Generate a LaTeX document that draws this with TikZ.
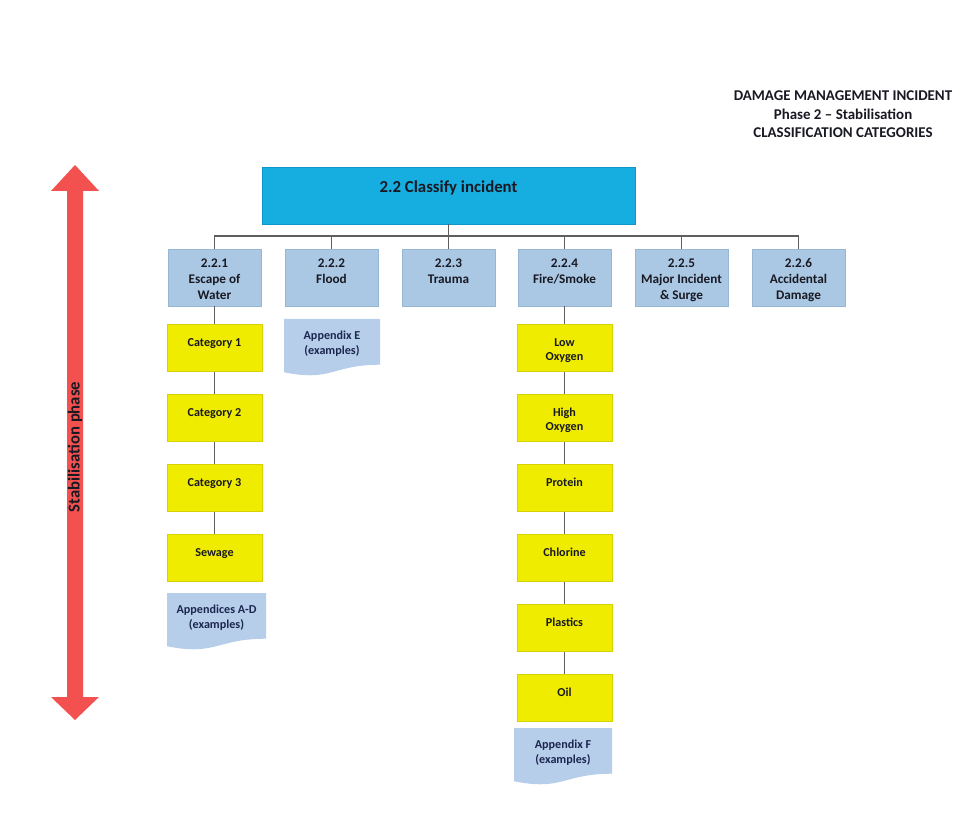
\documentclass[tikz,border=0pt]{standalone}
\usepackage{fontspec}
\setmainfont{Carlito}
\definecolor{cyanbox}{RGB}{22,174,224}
\definecolor{cyanedge}{RGB}{14,150,200}
\definecolor{paleblue}{RGB}{170,200,228}
\definecolor{paleedge}{RGB}{150,182,214}
\definecolor{docblue}{RGB}{182,206,234}
\definecolor{yellowbox}{RGB}{240,236,0}
\definecolor{yellowedge}{RGB}{214,210,0}
\definecolor{arrowred}{RGB}{243,80,80}
\definecolor{linegray}{RGB}{95,95,95}
\definecolor{inktext}{RGB}{25,25,35}
\definecolor{navytext}{RGB}{28,38,80}
% one drawing unit = one pixel (0.75pt), y grows downwards
\tikzset{
  boxbase/.style={rectangle, inner sep=0pt, line width=0.5pt},
  topbox/.style={boxbase, fill=cyanbox, draw=cyanedge, minimum width=279.75pt, minimum height=42.75pt},
  catbox/.style={boxbase, fill=paleblue, draw=paleedge, minimum width=69.75pt, minimum height=42.75pt},
  yelbox/.style={boxbase, fill=yellowbox, draw=yellowedge, minimum width=71.25pt, minimum height=35.25pt},
  boxtxt/.style={anchor=north, inner sep=0pt, align=center, text=inktext, font=\bfseries\fontsize{9.9}{12}\selectfont},
  yeltxt/.style={anchor=north, inner sep=0pt, align=center, text=inktext, font=\bfseries\fontsize{9.1}{10.5}\selectfont},
  doctxt/.style={anchor=north, inner sep=0pt, align=center, text=navytext, font=\bfseries\fontsize{9.1}{11.2}\selectfont},
  conn/.style={draw=linegray, line width=1pt},
  docfill/.style={fill=docblue}
}
% Flow-chart "document" shape: x, y (top-left), width, height
\newcommand\docshape[4]{%
  \fill[docfill] (#1,#2) -- (#1+#3,#2) -- (#1+#3,#2+0.802*#4)
    .. controls (#1+0.5*#3,#2+0.802*#4) and (#1+0.5*#3,#2+1.107*#4) ..
    (#1,#2+0.934*#4) -- cycle;}
\begin{document}
\begin{tikzpicture}[x=0.75pt,y=-0.75pt]
\useasboundingbox (0,0) rectangle (979,827);
\fill[white] (0,0) rectangle (979,827);

% heading
\node[anchor=north, inner sep=0pt, align=center, text=inktext,
      font=\bfseries\fontsize{11.2}{13.9}\selectfont] (heading) at (843,90.5)
  {DAMAGE MANAGEMENT INCIDENT\\Phase 2 -- Stabilisation\\CLASSIFICATION CATEGORIES};

% phase arrow
\fill[arrowred] (75,165) -- (99,191) -- (83,191) -- (83,697) -- (99,697)
  -- (75,720) -- (51,697) -- (67,697) -- (67,191) -- (51,191) -- cycle;
\node[rotate=90, inner sep=0pt, text=inktext, font=\bfseries\fontsize{12.5}{14}\selectfont]
  (phase) at (75,447) {Stabilisation phase};

% top box
\node[topbox] (top) at (448.5,195.5) {};
\node[anchor=north, inner sep=0pt, text=inktext, font=\bfseries\fontsize{12.6}{15}\selectfont]
  (topt) at (448.5,180) {2.2 Classify incident};

% classification boxes
\node[catbox] (b1) at (214.5,277.5) {};
\node[catbox] (b2) at (331.5,277.5) {};
\node[catbox] (b3) at (448.5,277.5) {};
\node[catbox] (b4) at (564.5,277.5) {};
\node[catbox] (b5) at (681.5,277.5) {};
\node[catbox] (b6) at (798.5,277.5) {};
\node[boxtxt] (b1t) at ([yshift=-7.3pt]b1.north) {2.2.1\\Escape of\\Water};
\node[boxtxt] (b2t) at ([yshift=-7.3pt]b2.north) {2.2.2\\Flood};
\node[boxtxt] (b3t) at ([yshift=-7.3pt]b3.north) {2.2.3\\Trauma};
\node[boxtxt] (b4t) at ([yshift=-7.3pt]b4.north) {2.2.4\\Fire/Smoke};
\node[boxtxt] (b5t) at ([yshift=-7.3pt]b5.north) {2.2.5\\Major Incident\\\& Surge};
\node[boxtxt] (b6t) at ([yshift=-7.3pt]b6.north) {2.2.6\\Accidental\\Damage};

% water categories
\node[yelbox] (w1) at (214.5,348) {};
\node[yelbox] (w2) at (214.5,418) {};
\node[yelbox] (w3) at (214.5,488) {};
\node[yelbox] (w4) at (214.5,558) {};
\node[yeltxt] (w1t) at ([yshift=-10.3pt]w1.north) {Category 1};
\node[yeltxt] (w2t) at ([yshift=-10.3pt]w2.north) {Category 2};
\node[yeltxt] (w3t) at ([yshift=-10.3pt]w3.north) {Category 3};
\node[yeltxt] (w4t) at ([yshift=-10.3pt]w4.north) {Sewage};

% fire / smoke categories
\node[yelbox] (f1) at (564.5,348) {};
\node[yelbox] (f2) at (564.5,418) {};
\node[yelbox] (f3) at (564.5,488) {};
\node[yelbox] (f4) at (564.5,558) {};
\node[yelbox] (f5) at (564.5,628) {};
\node[yelbox] (f6) at (564.5,698) {};
\node[yeltxt] (f1t) at ([yshift=-10.3pt]f1.north) {Low\\Oxygen};
\node[yeltxt] (f2t) at ([yshift=-10.3pt]f2.north) {High\\Oxygen};
\node[yeltxt] (f3t) at ([yshift=-10.3pt]f3.north) {Protein};
\node[yeltxt] (f4t) at ([yshift=-10.3pt]f4.north) {Chlorine};
\node[yeltxt] (f5t) at ([yshift=-10.3pt]f5.north) {Plastics};
\node[yeltxt] (f6t) at ([yshift=-10.3pt]f6.north) {Oil};

% appendix documents
\docshape{167}{593}{99}{57}
\docshape{284}{319}{96}{57}
\docshape{514}{728}{98}{57}
\node[doctxt] (apAD) at (216.5,604.5) {Appendices A-D\\(examples)};
\node[doctxt] (apE) at (332,330.5) {Appendix E\\(examples)};
\node[doctxt] (apF) at (563,739.5) {Appendix F\\(examples)};

% connectors
\coordinate (bus) at (448.5,236);
\draw[conn] (top.south) -- (top.south |- bus);
\draw[conn] (b1.north) -- (b1.north |- bus) -- (b6.north |- bus) -- (b6.north);
\draw[conn] (b2.north) -- (b2.north |- bus);
\draw[conn] (b3.north) -- (b3.north |- bus);
\draw[conn] (b4.north) -- (b4.north |- bus);
\draw[conn] (b5.north) -- (b5.north |- bus);
\draw[conn] (b1.south) -- (w1.north);
\draw[conn] (w1.south) -- (w2.north);
\draw[conn] (w2.south) -- (w3.north);
\draw[conn] (w3.south) -- (w4.north);
\draw[conn] (b4.south) -- (f1.north);
\draw[conn] (f1.south) -- (f2.north);
\draw[conn] (f2.south) -- (f3.north);
\draw[conn] (f3.south) -- (f4.north);
\draw[conn] (f4.south) -- (f5.north);
\draw[conn] (f5.south) -- (f6.north);
\end{tikzpicture}
\end{document}
